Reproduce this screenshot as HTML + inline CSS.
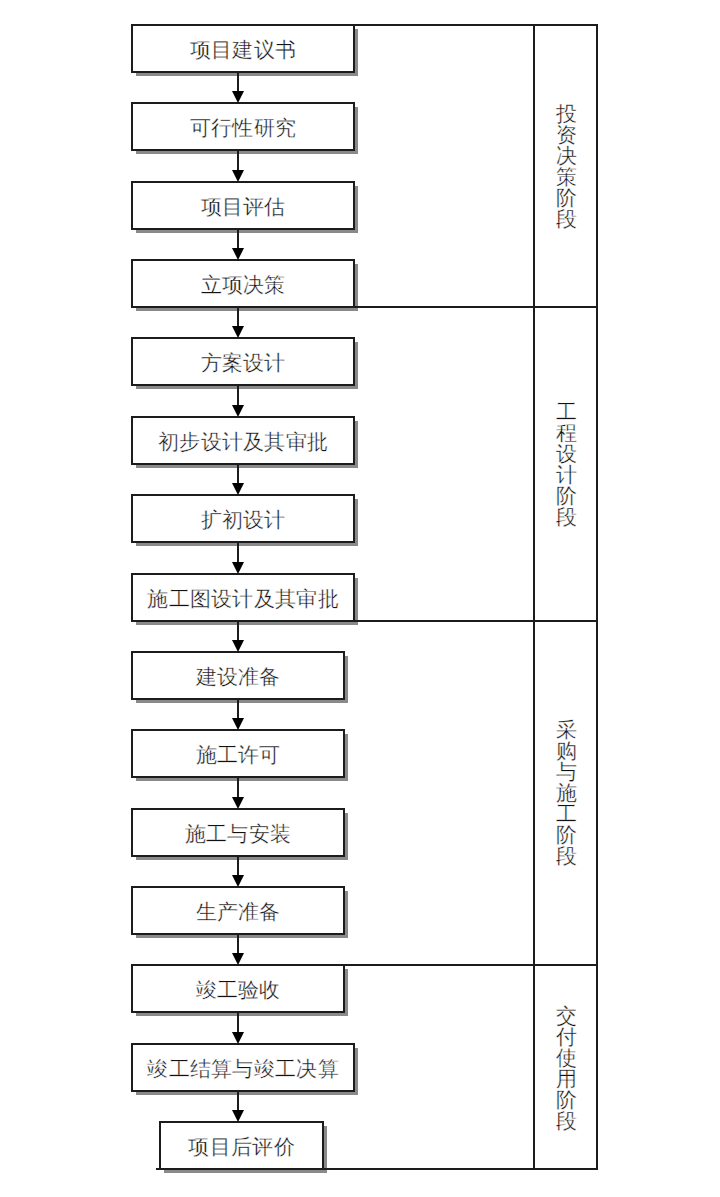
<!DOCTYPE html>
<html><head><meta charset="utf-8">
<style>
html,body{margin:0;padding:0;background:#fff;}
body{width:720px;height:1197px;position:relative;overflow:hidden;font-family:"Liberation Serif",serif;}
.b{position:absolute;box-sizing:border-box;border:2px solid #1c1c1c;background:#fff;box-shadow:4px 4px 0 -1px #8a8a8a;
 display:flex;align-items:center;justify-content:center;padding-top:3px;font-size:21px;color:#111;-webkit-text-stroke:0.35px #fff;line-height:1;white-space:nowrap;letter-spacing:0.3px;text-indent:0.3px}
.l{position:absolute;background:#1c1c1c;z-index:2}
.ah{position:absolute;width:0;height:0;border-left:6px solid transparent;border-right:6px solid transparent;border-top:12px solid #000;z-index:2}
.v{position:absolute;width:20px;font-size:21px;line-height:21px;color:#111;-webkit-text-stroke:0.35px #fff;text-align:center;}
</style></head><body>

<div class="l" style="left:237px;top:73px;width:2px;height:21px"></div>
<div class="ah" style="left:232px;top:91px"></div>
<div class="l" style="left:237px;top:151px;width:2px;height:22px"></div>
<div class="ah" style="left:232px;top:170px"></div>
<div class="l" style="left:237px;top:230px;width:2px;height:21px"></div>
<div class="ah" style="left:232px;top:248px"></div>
<div class="l" style="left:237px;top:308px;width:2px;height:21px"></div>
<div class="ah" style="left:232px;top:326px"></div>
<div class="l" style="left:237px;top:386px;width:2px;height:22px"></div>
<div class="ah" style="left:232px;top:405px"></div>
<div class="l" style="left:237px;top:465px;width:2px;height:21px"></div>
<div class="ah" style="left:232px;top:483px"></div>
<div class="l" style="left:237px;top:543px;width:2px;height:22px"></div>
<div class="ah" style="left:232px;top:562px"></div>
<div class="l" style="left:237px;top:622px;width:2px;height:21px"></div>
<div class="ah" style="left:232px;top:640px"></div>
<div class="l" style="left:237px;top:700px;width:2px;height:21px"></div>
<div class="ah" style="left:232px;top:718px"></div>
<div class="l" style="left:237px;top:778px;width:2px;height:22px"></div>
<div class="ah" style="left:232px;top:797px"></div>
<div class="l" style="left:237px;top:857px;width:2px;height:21px"></div>
<div class="ah" style="left:232px;top:875px"></div>
<div class="l" style="left:237px;top:935px;width:2px;height:21px"></div>
<div class="ah" style="left:232px;top:953px"></div>
<div class="l" style="left:237px;top:1013px;width:2px;height:22px"></div>
<div class="ah" style="left:232px;top:1032px"></div>
<div class="l" style="left:237px;top:1092px;width:2px;height:21px"></div>
<div class="ah" style="left:232px;top:1110px"></div>
<div class="b" style="left:131px;top:24px;width:224px;height:49px">项目建议书</div>
<div class="b" style="left:131px;top:102px;width:224px;height:49px">可行性研究</div>
<div class="b" style="left:131px;top:181px;width:224px;height:49px">项目评估</div>
<div class="b" style="left:131px;top:259px;width:224px;height:49px">立项决策</div>
<div class="b" style="left:131px;top:337px;width:224px;height:49px">方案设计</div>
<div class="b" style="left:131px;top:416px;width:224px;height:49px">初步设计及其审批</div>
<div class="b" style="left:131px;top:494px;width:224px;height:49px">扩初设计</div>
<div class="b" style="left:131px;top:573px;width:224px;height:49px">施工图设计及其审批</div>
<div class="b" style="left:131px;top:651px;width:214px;height:49px">建设准备</div>
<div class="b" style="left:131px;top:729px;width:214px;height:49px">施工许可</div>
<div class="b" style="left:131px;top:808px;width:214px;height:49px">施工与安装</div>
<div class="b" style="left:131px;top:886px;width:214px;height:49px">生产准备</div>
<div class="b" style="left:131px;top:964px;width:214px;height:49px">竣工验收</div>
<div class="b" style="left:131px;top:1043px;width:224px;height:49px">竣工结算与竣工决算</div>
<div class="b" style="left:159px;top:1121px;width:165px;height:49px">项目后评价</div>
<div class="l" style="left:355px;top:24px;width:243px;height:2px"></div>
<div class="l" style="left:533px;top:24px;width:2px;height:1146px"></div>
<div class="l" style="left:596px;top:24px;width:2px;height:1146px"></div>
<div class="l" style="left:355px;top:306px;width:243px;height:2px"></div>
<div class="l" style="left:355px;top:620px;width:243px;height:2px"></div>
<div class="l" style="left:345px;top:964px;width:253px;height:2px"></div>
<div class="l" style="left:156px;top:1168px;width:442px;height:2px"></div>
<div class="v" style="left:556px;top:103.5px">投<br>资<br>决<br>策<br>阶<br>段</div>
<div class="v" style="left:556px;top:402.0px">工<br>程<br>设<br>计<br>阶<br>段</div>
<div class="v" style="left:556px;top:720.0px">采<br>购<br>与<br>施<br>工<br>阶<br>段</div>
<div class="v" style="left:556px;top:1005.5px">交<br>付<br>使<br>用<br>阶<br>段</div>
</body></html>
